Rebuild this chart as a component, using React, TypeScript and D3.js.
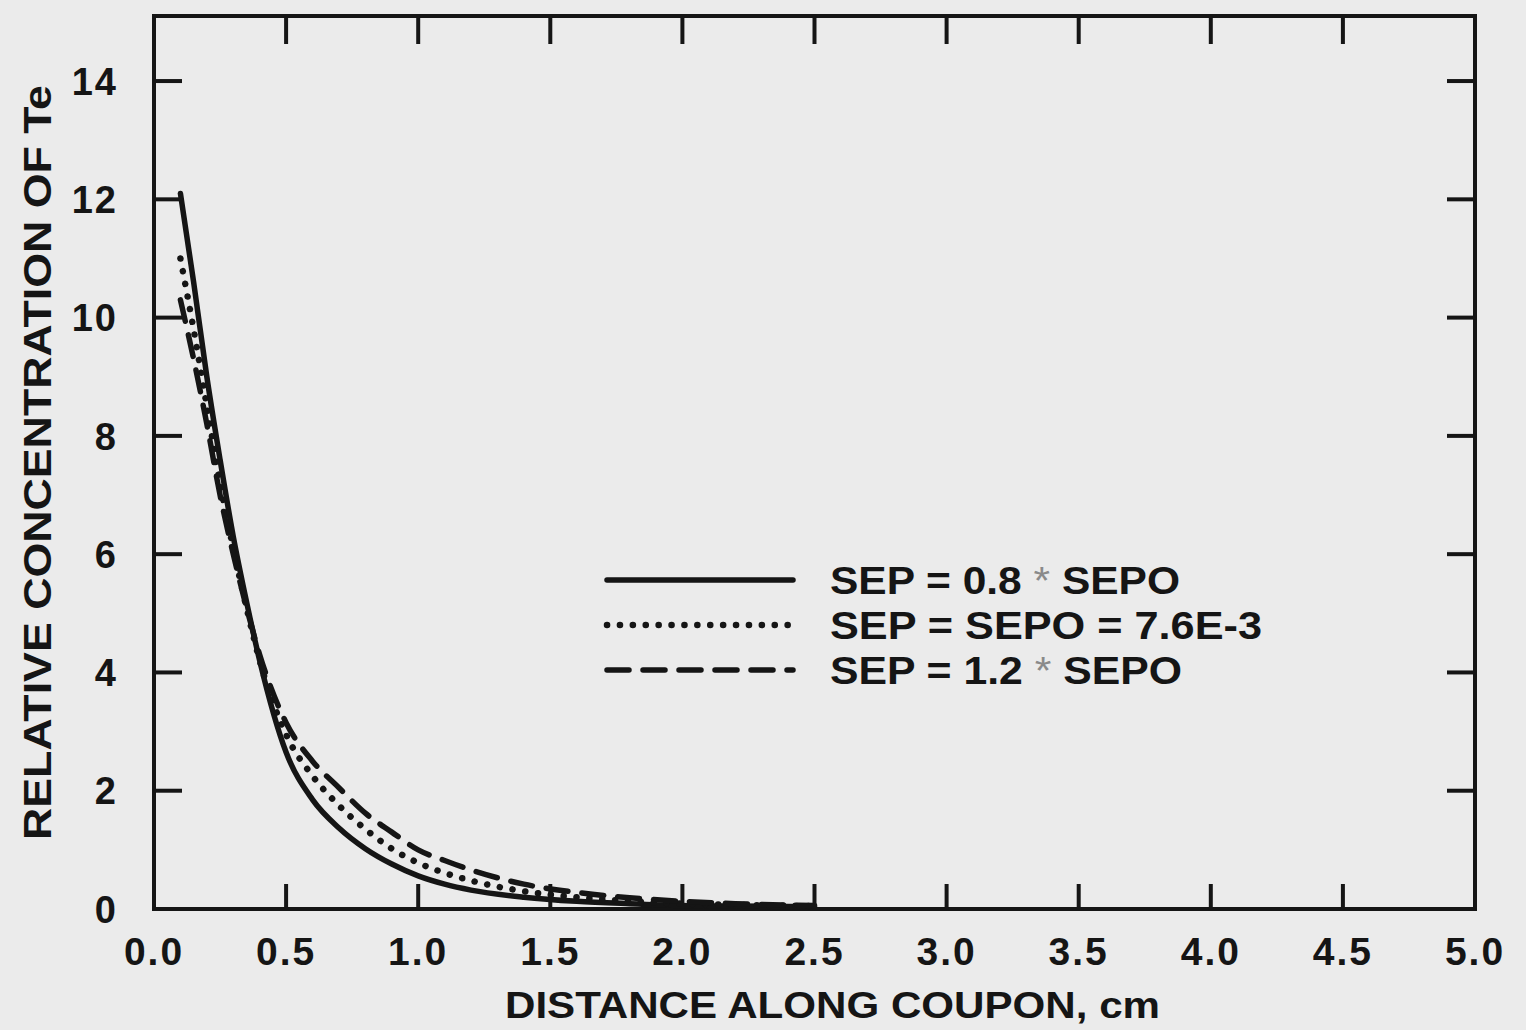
import { useEffect, useRef } from "react";
import * as d3 from "d3";

// distance along coupon, cm
const distance = [0.1, 0.15, 0.2, 0.25, 0.3, 0.35, 0.4, 0.5, 0.6, 0.7, 0.8, 0.9, 1.0, 1.1, 1.2, 1.4, 1.6, 1.8, 2.0, 2.2, 2.5];

// relative concentration of Te
const sep08 = [12.1, 10.6, 9.0, 7.6, 6.3, 5.2, 4.2, 2.65, 1.85, 1.37, 1.02, 0.76, 0.56, 0.42, 0.32, 0.2, 0.13, 0.09, 0.06, 0.05, 0.04];
const sep10 = [11.0, 9.8, 8.5, 7.2, 6.1, 5.1, 4.2, 2.95, 2.25, 1.75, 1.35, 1.02, 0.78, 0.61, 0.48, 0.3, 0.2, 0.13, 0.09, 0.07, 0.05];
const sep12 = [10.3, 9.3, 8.2, 7.0, 6.0, 5.1, 4.3, 3.15, 2.5, 2.05, 1.62, 1.3, 1.0, 0.82, 0.66, 0.42, 0.28, 0.19, 0.13, 0.09, 0.06];

const xTicks = [0, 0.5, 1, 1.5, 2, 2.5, 3, 3.5, 4, 4.5, 5];
const yTicks = [0, 2, 4, 6, 8, 10, 12, 14];

// legend labels, split round the light asterisk
const legendLabels = [
  ["SEP = 0.8 ", "*", " SEPO"],
  ["SEP = SEPO = 7.6E-3"],
  ["SEP = 1.2 ", "*", " SEPO"],
];
const legendWidths = [350, 432, 352];

const INK = "#151515";
const PAPER = "#ebebeb";
const FONT = "'Liberation Sans', Arial, sans-serif";

export default function App() {
  const svgRef = useRef<SVGSVGElement | null>(null);

  useEffect(() => {
    if (!svgRef.current) return;
    const svg = d3.select(svgRef.current);
    svg.selectAll("*").remove();

    const width = 1526;
    const height = 1030;
    const margin = { top: 16, right: 51, bottom: 121, left: 154 };
    const innerW = width - margin.left - margin.right;
    const innerH = height - margin.top - margin.bottom;

    svg.attr("viewBox", `0 0 ${width} ${height}`);
    svg.append("rect").attr("width", width).attr("height", height).attr("fill", PAPER);

    const x = d3.scaleLinear().domain([0, 5]).range([0, innerW]);
    const y = d3.scaleLinear().domain([0, 15.1]).range([innerH, 0]);

    const g = svg.append("g").attr("transform", `translate(${margin.left},${margin.top})`);

    // frame
    g.append("rect")
      .attr("width", innerW)
      .attr("height", innerH)
      .attr("fill", "none")
      .attr("stroke", INK)
      .attr("stroke-width", 4);

    const tickLen = 28;
    const inner = xTicks.filter((d) => d > 0 && d < 5);
    // bottom + top ticks (pointing inward)
    g.append("g").selectAll("line").data(inner).join("line")
      .attr("x1", (d) => x(d)).attr("x2", (d) => x(d))
      .attr("y1", innerH).attr("y2", innerH - tickLen + 3)
      .attr("stroke", INK).attr("stroke-width", 4);
    g.append("g").selectAll("line").data(inner).join("line")
      .attr("x1", (d) => x(d)).attr("x2", (d) => x(d))
      .attr("y1", 0).attr("y2", tickLen)
      .attr("stroke", INK).attr("stroke-width", 4);

    const yInner = yTicks.filter((d) => d > 0);
    g.append("g").selectAll("line").data(yInner).join("line")
      .attr("x1", 0).attr("x2", tickLen)
      .attr("y1", (d) => y(d)).attr("y2", (d) => y(d))
      .attr("stroke", INK).attr("stroke-width", 4);
    g.append("g").selectAll("line").data(yInner).join("line")
      .attr("x1", innerW).attr("x2", innerW - tickLen)
      .attr("y1", (d) => y(d)).attr("y2", (d) => y(d))
      .attr("stroke", INK).attr("stroke-width", 4);

    // tick labels
    g.append("g").selectAll("text").data(xTicks).join("text")
      .attr("x", (d) => x(d))
      .attr("y", innerH + 56)
      .attr("text-anchor", "middle")
      .attr("font-family", FONT)
      .attr("font-weight", "bold")
      .attr("font-size", 39)
      .attr("letter-spacing", 2)
      .attr("fill", INK)
      .text((d) => d3.format(".1f")(d));

    g.append("g").selectAll("text").data(yTicks).join("text")
      .attr("x", -36)
      .attr("y", (d) => y(d))
      .attr("dy", "0.36em")
      .attr("text-anchor", "end")
      .attr("font-family", FONT)
      .attr("font-weight", "bold")
      .attr("font-size", 38)
      .attr("letter-spacing", 2)
      .attr("fill", INK)
      .text((d) => String(d));

    // axis titles (glyphs stretched a little, like the wide original face)
    g.append("text")
      .attr("x", 505 - margin.left)
      .attr("y", innerH + 109)
      .attr("font-family", FONT)
      .attr("font-weight", "bold")
      .attr("font-size", 37)
      .attr("textLength", 655)
      .attr("lengthAdjust", "spacingAndGlyphs")
      .attr("fill", INK)
      .text("DISTANCE ALONG COUPON, cm");

    g.append("text")
      .attr("transform", `translate(${-103},${840 - margin.top}) rotate(-90)`)
      .attr("font-family", FONT)
      .attr("font-weight", "bold")
      .attr("font-size", 38)
      .attr("textLength", 755)
      .attr("lengthAdjust", "spacingAndGlyphs")
      .attr("fill", INK)
      .text("RELATIVE CONCENTRATION OF Te");

    // curves
    const line = d3.line<number>()
      .x((_, i) => x(distance[i]))
      .y((d) => y(d))
      .curve(d3.curveMonotoneX);

    const styles = [
      { data: sep08, dash: null as string | null, width: 5.5 },
      { data: sep10, dash: "0.1 12.8", width: 6.5 },
      { data: sep12, dash: "22 14", width: 5.5 },
    ];

    styles.forEach((s) => {
      g.append("path")
        .datum(s.data)
        .attr("d", line)
        .attr("fill", "none")
        .attr("stroke", INK)
        .attr("stroke-width", s.width)
        .attr("stroke-linecap", "round")
        .attr("stroke-dasharray", s.dash);
    });

    // legend
    const leg = svg.append("g").attr("transform", "translate(607,580)");
    styles.forEach((s, i) => {
      const row = leg.append("g").attr("transform", `translate(0,${i * 45})`);
      row.append("line")
        .attr("x1", 0).attr("x2", 186)
        .attr("y1", 0).attr("y2", 0)
        .attr("stroke", INK)
        .attr("stroke-width", s.width)
        .attr("stroke-linecap", "round")
        .attr("stroke-dasharray", s.dash);
      const t = row.append("text")
        .attr("x", 223)
        .attr("y", 0)
        .attr("dy", "0.36em")
        .attr("font-family", FONT)
        .attr("font-weight", "bold")
        .attr("font-size", 38)
        .attr("textLength", legendWidths[i])
        .attr("lengthAdjust", "spacingAndGlyphs")
        .attr("fill", INK);
      legendLabels[i].forEach((part) => {
        const ts = t.append("tspan").text(part);
        if (part === "*") ts.attr("font-weight", "normal").attr("fill", "#8a8a8a");
      });
    });
  }, []);

  return (
    <svg
      ref={svgRef}
      width={1526}
      height={1030}
      style={{ position: "absolute", left: 0, top: 0, display: "block" }}
    />
  );
}
